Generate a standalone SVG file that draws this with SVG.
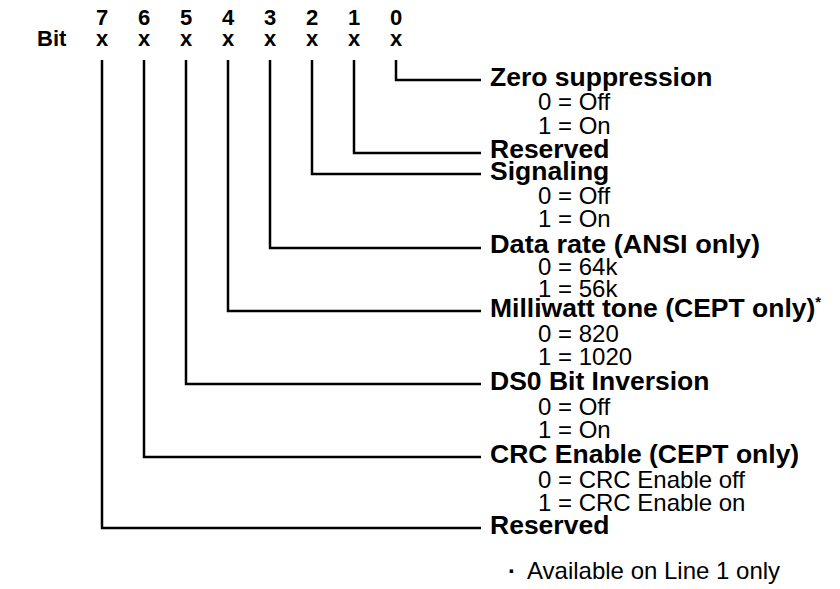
<svg xmlns="http://www.w3.org/2000/svg" width="840" height="589" viewBox="0 0 840 589">
<style>
.b{font-family:"Liberation Sans",Arial,sans-serif;font-weight:bold;font-size:22px;fill:#000}
.h{font-family:"Liberation Sans",Arial,sans-serif;font-weight:bold;font-size:26.5px;fill:#000}
.s{font-family:"Liberation Sans",Arial,sans-serif;font-size:24px;fill:#000}
.c{fill:none;stroke:#000;stroke-width:2.5}
</style>
<rect width="840" height="589" fill="#fff"/>
<g id="header">
<text class="b" x="37" y="46">Bit</text>
<g text-anchor="middle">
<text class="b" x="102" y="25">7</text><text class="b" x="144" y="25">6</text><text class="b" x="186" y="25">5</text><text class="b" x="228" y="25">4</text><text class="b" x="270" y="25">3</text><text class="b" x="312" y="25">2</text><text class="b" x="354" y="25">1</text><text class="b" x="396" y="25">0</text>
<text class="b" x="102" y="46">x</text><text class="b" x="144" y="46">x</text><text class="b" x="186" y="46">x</text><text class="b" x="228" y="46">x</text><text class="b" x="270" y="46">x</text><text class="b" x="312" y="46">x</text><text class="b" x="354" y="46">x</text><text class="b" x="396" y="46">x</text>
</g>
</g>
<g id="connectors">
<polyline class="c" points="396,60 396,80 481,80"/>
<polyline class="c" points="354,60 354,153 481,153"/>
<polyline class="c" points="312,60 312,174 481,174"/>
<polyline class="c" points="270,60 270,248 481,248"/>
<polyline class="c" points="228,60 228,311 481,311"/>
<polyline class="c" points="186,60 186,384 481,384"/>
<polyline class="c" points="144,60 144,457 481,457"/>
<polyline class="c" points="102,60 102,528 481,528"/>
</g>
<g id="bit0"><text class="h" x="490" y="86">Zero suppression</text><text class="s" x="538" y="110">0 = Off</text><text class="s" x="538" y="134">1 = On</text></g>
<g id="bit1"><text class="h" x="490" y="158">Reserved</text></g>
<g id="bit2"><text class="h" x="490" y="180">Signaling</text><text class="s" x="538" y="204">0 = Off</text><text class="s" x="538" y="227">1 = On</text></g>
<g id="bit3"><text class="h" x="490" y="253" textLength="270" lengthAdjust="spacingAndGlyphs">Data rate (ANSI only)</text><text class="s" x="538" y="275">0 = 64k</text><text class="s" x="538" y="297">1 = 56k</text></g>
<g id="bit4"><text class="h" x="490" y="317">Milliwatt tone (CEPT only)<tspan font-size="15" dy="-10">*</tspan></text><text class="s" x="538" y="342">0 = 820</text><text class="s" x="538" y="365">1 = 1020</text></g>
<g id="bit5"><text class="h" x="490" y="390">DS0 Bit Inversion</text><text class="s" x="538" y="415">0 = Off</text><text class="s" x="538" y="438">1 = On</text></g>
<g id="bit6"><text class="h" x="490" y="463">CRC Enable (CEPT only)</text><text class="s" x="538" y="488">0 = CRC Enable off</text><text class="s" x="538" y="511">1 = CRC Enable on</text></g>
<g id="bit7"><text class="h" x="490" y="534">Reserved</text></g>
<g id="note"><text class="s" y="579"><tspan x="508" font-weight="bold">·</tspan><tspan x="527">Available on Line 1 only</tspan></text></g>
</svg>
